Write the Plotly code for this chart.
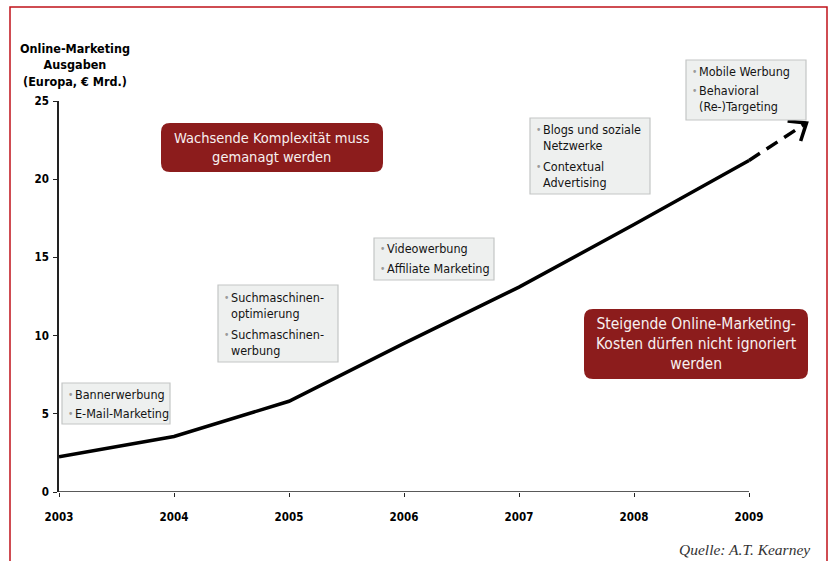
import math
import plotly.graph_objects as go

# ---- data ----
years = [2003, 2004, 2005, 2006, 2007, 2008, 2009]
spend = [2.25, 3.55, 5.8, 9.5, 13.1, 17.1, 21.2]
forecast_x = [2009, 2009.5]
forecast_y = [21.2, 23.6]
y_ticks = [0, 5, 10, 15, 20, 25]
y_title = "Online-Marketing<br>Ausgaben<br>(Europa, € Mrd.)"
source = "Quelle: A.T. Kearney"

boxes = [
    ["Bannerwerbung", "E-Mail-Marketing"],
    ["Suchmaschinen-<br>optimierung", "Suchmaschinen-<br>werbung"],
    ["Videowerbung", "Affiliate Marketing"],
    ["Blogs und soziale<br>Netzwerke", "Contextual<br>Advertising"],
    ["Mobile Werbung", "Behavioral<br>(Re-)Targeting"],
]
callouts = [
    "Wachsende Komplexität muss<br>gemanagt werden",
    "Steigende Online-Marketing-<br>Kosten dürfen nicht ignoriert<br>werden",
]

# ---- layout geometry (pixels) ----
W, H = 833, 561
L, R, T, B = 59, 818, 101, 492
X0, XPY = 2003, 115.0            # px per year
YPU = (B - T) / 25.0             # px per unit
xmax = X0 + (R - L) / XPY

def PX(x):
    return (x - L) / (R - L)

def PY(y):
    return (B - y) / (B - T)

def d2px(x, y):
    return L + (x - X0) * XPY, B - y * YPU

def px2d(px, py):
    return X0 + (px - L) / XPY, (B - py) / YPU

FONT = "Liberation Sans Narrow, DejaVu Sans Condensed, Arial Narrow, sans-serif"
TXT = "#141414"

fig = go.Figure()
fig.add_trace(go.Scatter(x=years, y=spend, mode="lines",
                         line=dict(color="black", width=3.5), hoverinfo="skip"))
fig.add_trace(go.Scatter(x=forecast_x, y=forecast_y, mode="lines",
                         line=dict(color="black", width=3.5, dash="13px,8px"),
                         hoverinfo="skip"))

# chevron arrow head computed from forecast direction
sx, sy = d2px(forecast_x[0], forecast_y[0])
tx, ty = d2px(forecast_x[1], forecast_y[1])
ang = math.atan2(sy - ty, sx - tx)
arm = 19
hx, hy = [], []
for da in (0.68, -0.68):
    ex, ey = tx + arm * math.cos(ang + da), ty + arm * math.sin(ang + da)
    hx.append(ex); hy.append(ey)
p1 = px2d(hx[0], hy[0]); p2 = px2d(hx[1], hy[1])
fig.add_trace(go.Scatter(x=[p1[0], forecast_x[1], p2[0]], y=[p1[1], forecast_y[1], p2[1]],
                         mode="lines", line=dict(color="black", width=3.5),
                         hoverinfo="skip"))

shapes = []
annotations = []

# bottom axis line (only to 2009)
shapes.append(dict(type="line", xref="x", yref="y", x0=years[0], x1=years[-1], y0=0, y1=0,
                   line=dict(color="#222", width=1.5)))

# red frame (left, top, right)
fl, ft, fr, fb = 10, 7, 827, 570
shapes.append(dict(type="path", xref="paper", yref="paper",
                   path=f"M {PX(fl)},{PY(fb)} L {PX(fl)},{PY(ft)} L {PX(fr)},{PY(ft)} L {PX(fr)},{PY(fb)}",
                   line=dict(color="#c0121a", width=1.5)))

# gray boxes: (x0, y0, x1, y1, [item first-line centers])
box_geo = [
    (62, 383, 170, 424, [394, 413]),
    (218, 285, 338, 362, [297, 334]),
    (374, 238, 494, 280, [248, 268]),
    (530, 118, 650, 194, [129, 166]),
    (686, 60, 806, 120, [71, 90]),
]
FS = 12.5
for (x0, y0, x1, y1, centers), items in zip(box_geo, boxes):
    shapes.append(dict(type="rect", xref="paper", yref="paper",
                       x0=PX(x0), x1=PX(x1), y0=PY(y1), y1=PY(y0),
                       fillcolor="#eef0ef", line=dict(color="#c4c6c5", width=1.2)))
    for c, item in zip(centers, items):
        annotations.append(dict(xref="paper", yref="paper", x=PX(x0 + 4), y=PY(c),
                                xanchor="left", yanchor="middle", showarrow=False,
                                text="•", font=dict(family=FONT, size=10, color="#9a9a9a")))
        top = c - 0.65 * FS
        annotations.append(dict(xref="paper", yref="paper", x=PX(x0 + 12), y=PY(top),
                                xanchor="left", yanchor="top", showarrow=False, align="left",
                                text=item, borderpad=0,
                                font=dict(family=FONT, size=FS, color=TXT)))

# red callouts with rounded corners
def rrect(x0, y0, x1, y1, r):
    pts = [("M", [(x0 + r, y0)]), ("L", [(x1 - r, y0)]), ("Q", [(x1, y0), (x1, y0 + r)]),
           ("L", [(x1, y1 - r)]), ("Q", [(x1, y1), (x1 - r, y1)]), ("L", [(x0 + r, y1)]),
           ("Q", [(x0, y1), (x0, y1 - r)]), ("L", [(x0, y0 + r)]), ("Q", [(x0, y0), (x0 + r, y0)])]
    s = ""
    for cmd, ps in pts:
        s += cmd + " " + " ".join(f"{PX(a):.5f},{PY(b):.5f}" for a, b in ps) + " "
    return s + "Z"

call_geo = [(161, 123, 383, 172, 14.5), (584, 309, 808, 379, 15.5)]
for (x0, y0, x1, y1, fs), txt in zip(call_geo, callouts):
    shapes.append(dict(type="path", xref="paper", yref="paper", path=rrect(x0, y0, x1, y1, 9),
                       fillcolor="#8c1c1c", line=dict(width=0)))
    annotations.append(dict(xref="paper", yref="paper", x=PX((x0 + x1) / 2), y=PY((y0 + y1) / 2),
                            xanchor="center", yanchor="middle", showarrow=False, align="center",
                            text=txt, font=dict(family=FONT, size=fs, color="#f7f0f0")))

# y axis title
annotations.append(dict(xref="paper", yref="paper", x=PX(75), y=PY(65), xanchor="center",
                        yanchor="middle", showarrow=False, align="center",
                        text=f"<b>{y_title}</b>", font=dict(family=FONT, size=12.5, color="black")))
# source
annotations.append(dict(xref="paper", yref="paper", x=PX(812), y=PY(549), xanchor="right",
                        yanchor="middle", showarrow=False,
                        text=f"<i>{source}</i>",
                        font=dict(family="Liberation Serif, DejaVu Serif, serif", size=15.5, color="#333")))

TICKFONT = dict(family="DejaVu Sans Condensed, sans-serif", size=11.5, color="black", weight="bold")
fig.update_layout(
    width=W, height=H, autosize=False,
    margin=dict(l=L, r=W - R, t=T, b=H - B, pad=0),
    paper_bgcolor="white", plot_bgcolor="white",
    showlegend=False, shapes=shapes, annotations=annotations,
    xaxis=dict(range=[X0, xmax], tickvals=years, ticktext=[str(y) for y in years],
               showline=False, showgrid=False, zeroline=False, ticks="outside", ticklen=4,
               tickcolor="#222", tickwidth=1.2, ticklabelstandoff=10,
               tickfont=TICKFONT),
    yaxis=dict(range=[0, 25], tickvals=y_ticks, showline=True, linecolor="#222", linewidth=1.5,
               showgrid=False, zeroline=False, ticks="outside", ticklen=4, tickcolor="#222",
               tickwidth=1.2, ticklabelstandoff=2, tickfont=TICKFONT),
)

fig.write_html("out.html")
